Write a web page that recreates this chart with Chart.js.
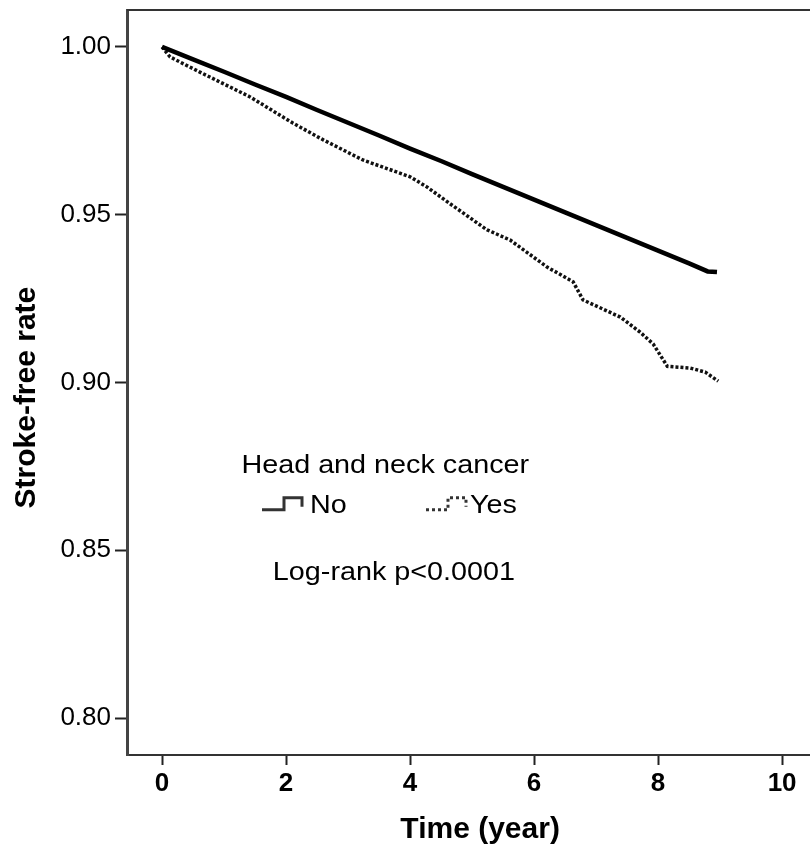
<!DOCTYPE html>
<html lang="en">
<head>
    <meta charset="UTF-8">
    <title>Stroke-free rate by head and neck cancer</title>
    <script src="https://cdn.jsdelivr.net/npm/chart.js"></script>
    <style>
        body {
            margin: 0;
            background: white;
        }
        #km-chart {
            display: block;
        }
    </style>
</head>
<body>
    <canvas id="km-chart" width="810" height="858"></canvas>

    <script>
        // Data
        const noTime = [0, 0.5, 1.0, 1.5, 2.0, 2.5, 3.0, 3.5, 4.0, 4.5, 5.0, 5.5, 6.0, 6.5, 7.0, 7.5, 8.0, 8.5, 8.8, 8.95];
        const noRate = [1.0, 0.9963, 0.9926, 0.9888, 0.9851, 0.9812, 0.9774, 0.9736, 0.9697, 0.9660, 0.9621, 0.9583, 0.9545, 0.9507, 0.9469, 0.9431, 0.9393, 0.9355, 0.9331, 0.9329];

        const yesTime = [0, 0.13, 0.61, 1.42, 2.11, 2.6, 3.24, 4.0, 4.27, 4.65, 5.24, 5.61, 6.21, 6.63, 6.79, 7.39, 7.71, 7.92, 8.15, 8.52, 8.76, 8.97];
        const yesRate = [1.0, 0.9970, 0.9925, 0.9851, 0.9773, 0.9723, 0.9663, 0.9613, 0.9583, 0.9532, 0.9455, 0.9425, 0.9344, 0.9300, 0.9246, 0.9195, 0.9150, 0.9115, 0.9048, 0.9043, 0.9031, 0.9004];

        const xTicks = [0, 2, 4, 6, 8, 10];
        const yTicks = [0.80, 0.85, 0.90, 0.95, 1.00];

        const xTitle = 'Time (year)';
        const yTitle = 'Stroke-free rate';
        const legendTitle = 'Head and neck cancer';
        const groupLabels = ['No', 'Yes'];
        const pValueText = 'Log-rank p<0.0001';

        const FONT = '"Liberation Sans", Arial, sans-serif';
        const toPoints = (xs, ys) => xs.map((x, i) => ({ x: x, y: ys[i] }));

        // wide-ish text like the SPSS export
        function wideText(ctx, text, x, y, align) {
            const sx = 1.15;
            ctx.save();
            ctx.translate(x, y);
            ctx.scale(sx, 1);
            ctx.textAlign = align;
            ctx.fillText(text, 0, 0);
            ctx.restore();
        }

        // top frame line, axis titles and the legend box
        const annotationPlugin = {
            id: 'kmAnnotations',
            afterDraw(chart) {
                const { ctx, chartArea, scales: { x, y } } = chart;
                ctx.save();

                ctx.strokeStyle = '#333';
                ctx.lineWidth = 2;
                ctx.beginPath();
                ctx.moveTo(chartArea.left, chartArea.top);
                ctx.lineTo(chartArea.right, chartArea.top);
                ctx.stroke();

                ctx.fillStyle = '#000';
                ctx.textBaseline = 'middle';

                // axis titles
                ctx.font = 'bold 30px ' + FONT;
                ctx.textAlign = 'center';
                ctx.fillText(xTitle, x.getPixelForValue(5.13), chart.height - 28);
                ctx.save();
                ctx.translate(27, y.getPixelForValue(0.8955));
                ctx.rotate(-Math.PI / 2);
                ctx.fillText(yTitle, 0, 0);
                ctx.restore();

                // legend
                ctx.font = '25px ' + FONT;
                wideText(ctx, legendTitle, x.getPixelForValue(3.6), y.getPixelForValue(0.8750), 'center');
                wideText(ctx, pValueText, x.getPixelForValue(3.74), y.getPixelForValue(0.8432), 'center');

                const rowY = y.getPixelForValue(0.8633);
                const drawSymbol = (x0, dashed) => {
                    ctx.lineWidth = 3;
                    ctx.setLineDash(dashed ? [3, 3] : []);
                    ctx.beginPath();
                    ctx.moveTo(x0, rowY + 4);
                    ctx.lineTo(x0 + 22, rowY + 4);
                    ctx.lineTo(x0 + 22, rowY - 8);
                    ctx.lineTo(x0 + 40, rowY - 8);
                    ctx.lineTo(x0 + 40, rowY + 1);
                    ctx.stroke();
                };
                drawSymbol(262, false);
                drawSymbol(426, true);
                ctx.setLineDash([]);
                wideText(ctx, groupLabels[0], 310, rowY, 'left');
                wideText(ctx, groupLabels[1], 470, rowY, 'left');

                ctx.restore();
            }
        };

        new Chart(document.getElementById('km-chart'), {
            type: 'line',
            data: {
                datasets: [
                    {
                        label: groupLabels[0],
                        data: toPoints(noTime, noRate),
                        borderColor: '#000',
                        borderWidth: 4.5,
                        pointRadius: 0,
                        tension: 0,
                    },
                    {
                        label: groupLabels[1],
                        data: toPoints(yesTime, yesRate),
                        borderColor: '#111',
                        borderWidth: 3.5,
                        borderDash: [3, 2],
                        pointRadius: 0,
                        tension: 0,
                    },
                ],
            },
            options: {
                responsive: false,
                animation: false,
                layout: { padding: { top: 10, right: 0, left: 0, bottom: 0 } },
                plugins: {
                    legend: { display: false },
                    tooltip: { enabled: false },
                },
                scales: {
                    x: {
                        type: 'linear',
                        min: -0.565,
                        max: 10.45,
                        afterFit: (s) => {
                            s.height = 103;
                            s.paddingLeft = 0;
                            s.paddingRight = 0;
                        },
                        afterBuildTicks: (s) => { s.ticks = xTicks.map(v => ({ value: v })); },
                        grid: {
                            drawOnChartArea: false,
                            drawTicks: true,
                            tickLength: 10,
                            tickColor: '#222',
                            tickWidth: 2,
                        },
                        border: { color: '#333', width: 2 },
                        ticks: {
                            color: '#000',
                            padding: 3,
                            font: { family: FONT, size: 26, weight: 'bold' },
                        },
                    },
                    y: {
                        min: 0.789,
                        max: 1.011,
                        afterFit: (s) => {
                            s.width = 127;
                            s.paddingTop = 0;
                            s.paddingBottom = 0;
                        },
                        afterBuildTicks: (s) => { s.ticks = yTicks.map(v => ({ value: v })); },
                        grid: {
                            drawOnChartArea: false,
                            drawTicks: true,
                            tickLength: 12,
                            tickColor: '#222',
                            tickWidth: 2,
                        },
                        border: { color: '#444', width: 3 },
                        ticks: {
                            color: '#000',
                            padding: 4,
                            callback: (v) => v.toFixed(2),
                            font: { family: FONT, size: 26 },
                        },
                    },
                },
            },
            plugins: [annotationPlugin],
        });
    </script>
</body>
</html>
